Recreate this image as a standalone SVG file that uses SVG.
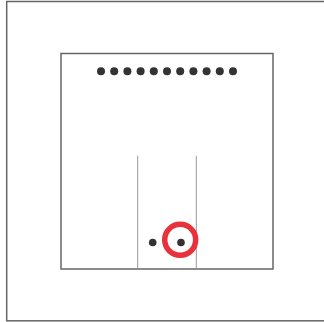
<svg xmlns="http://www.w3.org/2000/svg" width="324" height="322" viewBox="0 0 324 322">
<style>
.frame{fill:#fff;stroke:#666;stroke-width:1.5}
.line{stroke:#999;stroke-width:1}
.dot{fill:#333}
.ring{fill:none;stroke:#e8313a;stroke-width:5.5}
</style>
<rect x="0" y="0" width="324" height="322" fill="#fff"/>
<g id="outer"><rect class="frame" x="6.7" y="1.5" width="330" height="319.3"/></g>
<g id="inner"><rect class="frame" x="61" y="53.5" width="212" height="215.5"/></g>
<g id="connectors">
<line class="line" x1="137.7" y1="155.7" x2="137.7" y2="268.5"/>
<line class="line" x1="196.3" y1="155.7" x2="196.3" y2="268.5"/>
</g>
<g id="top-dots">
<circle class="dot" cx="101" cy="71.3" r="4"/>
<circle class="dot" cx="114.2" cy="71.3" r="4"/>
<circle class="dot" cx="127.4" cy="71.3" r="4"/>
<circle class="dot" cx="140.6" cy="71.3" r="4"/>
<circle class="dot" cx="153.8" cy="71.3" r="4"/>
<circle class="dot" cx="167" cy="71.3" r="4"/>
<circle class="dot" cx="180.2" cy="71.3" r="4"/>
<circle class="dot" cx="193.4" cy="71.3" r="4"/>
<circle class="dot" cx="206.6" cy="71.3" r="4"/>
<circle class="dot" cx="219.8" cy="71.3" r="4"/>
<circle class="dot" cx="233" cy="71.3" r="4"/>
</g>
<g id="dot-a"><circle class="dot" cx="152.7" cy="242.5" r="3.8"/></g>
<g id="dot-b"><circle class="dot" cx="181" cy="242.5" r="3.8"/></g>
<g id="highlight"><circle class="ring" cx="180.2" cy="239.8" r="15.5"/></g>
</svg>
